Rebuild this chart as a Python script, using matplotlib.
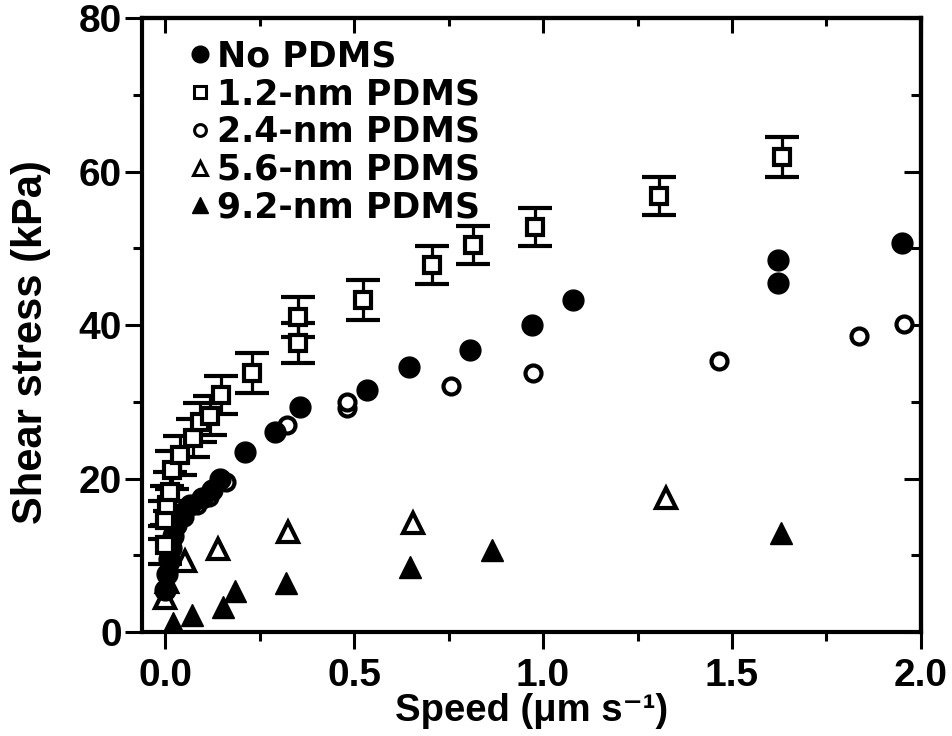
import matplotlib
matplotlib.use("Agg")
import matplotlib.pyplot as plt
from matplotlib.ticker import MultipleLocator
from matplotlib.lines import Line2D

plt.rcParams['font.family'] = ['Liberation Sans', 'DejaVu Sans']
plt.rcParams['font.weight'] = 'bold'

# ---- data ----
no_x = [0.0, 0.005, 0.01, 0.015, 0.02, 0.03, 0.045, 0.066, 0.098, 0.124, 0.145,
        0.212, 0.291, 0.357, 0.534, 0.646, 0.807, 0.971, 1.079, 1.622, 1.622, 1.95]
no_y = [5.5, 7.5, 9.5, 11.0, 12.5, 14.0, 15.5, 16.5, 17.5, 18.5, 20.0,
        23.5, 26.1, 29.3, 31.5, 34.5, 36.7, 40.0, 43.3, 48.5, 45.5, 50.7]

p12_x = [0.0, 0.0, 0.005, 0.013, 0.018, 0.04, 0.074, 0.093, 0.12, 0.148,
         0.23, 0.352, 0.352, 0.524, 0.706, 0.815, 0.979, 1.306, 1.633]
p12_y = [11.3, 14.6, 16.5, 18.3, 21.1, 23.0, 25.3, 27.3, 28.2, 30.9,
         33.7, 37.7, 41.0, 43.3, 47.8, 50.4, 52.8, 56.8, 61.9]
p12_err = [2.5, 2.5, 2.5, 2.5, 2.5, 2.5, 2.5, 2.5, 2.5, 2.5,
           2.6, 2.6, 2.6, 2.6, 2.5, 2.5, 2.5, 2.5, 2.6]

p24_x = [0.02, 0.05, 0.085, 0.115, 0.16, 0.323, 0.481, 0.481, 0.757, 0.974, 1.466, 1.836, 1.955]
p24_y = [12.5, 15.0, 16.5, 17.6, 19.5, 27.0, 29.2, 30.0, 32.0, 33.7, 35.3, 38.6, 40.1]

p56_x = [0.0, 0.005, 0.053, 0.14, 0.325, 0.656, 1.325]
p56_y = [4.4, 6.5, 9.3, 10.8, 13.0, 14.2, 17.5]

p92_x = [0.021, 0.071, 0.153, 0.185, 0.32, 0.648, 0.865, 1.63]
p92_y = [1.2, 2.2, 3.3, 5.3, 6.4, 8.5, 10.7, 12.9]

labels = ['No PDMS', '1.2-nm PDMS', '2.4-nm PDMS', '5.6-nm PDMS', '9.2-nm PDMS']
xticks = [0.0, 0.5, 1.0, 1.5, 2.0]
yticks = [0, 20, 40, 60, 80]

# ---- figure ----
fig = plt.figure(figsize=(9.53, 7.36), dpi=100)
ax = fig.add_axes([0.149, 0.1413, 0.8174, 0.8342])

ax.plot(p92_x, p92_y, linestyle='none', marker='^', ms=16, color='black', zorder=3)
ax.plot(p56_x, p56_y, linestyle='none', marker='^', ms=14, mfc='white', mec='black', mew=3, zorder=3)
ax.plot(p24_x, p24_y, linestyle='none', marker='o', ms=11.5, mfc='white', mec='black', mew=3, zorder=4)
ax.plot(no_x, no_y, linestyle='none', marker='o', ms=15, color='black', zorder=4)
ax.errorbar(p12_x, p12_y, yerr=p12_err, linestyle='none', marker='s', ms=11.5,
            mfc='white', mec='black', mew=3, ecolor='black', elinewidth=2.3,
            capsize=12, capthick=2.3, zorder=5)

ax.set_xlim(-0.061, 2.0)
ax.set_ylim(0, 80)
ax.set_xticks(xticks)
ax.set_yticks(yticks)
ax.set_xticklabels([f'{v:.1f}' for v in xticks])
ax.set_yticklabels([str(v) for v in yticks])
ax.xaxis.set_minor_locator(MultipleLocator(0.25))
ax.yaxis.set_minor_locator(MultipleLocator(10))

for s in ax.spines.values():
    s.set_linewidth(3)

ax.tick_params(axis='both', which='major', direction='out', length=12.5, width=2.2,
               labelsize=28, top=False, right=False)
ax.tick_params(axis='x', which='major', pad=6)
ax.tick_params(axis='y', which='major', pad=2)
ax.tick_params(axis='both', which='minor', direction='out', length=6.5, width=2.2,
               top=False, right=False)

secx = ax.secondary_xaxis('top')
secx.set_xticks(xticks)
secx.xaxis.set_minor_locator(MultipleLocator(0.25))
secx.tick_params(which='major', direction='in', length=11, width=2.2, labeltop=False)
secx.tick_params(which='minor', direction='in', length=6, width=2.2)
secx.spines['top'].set_linewidth(3)
secy = ax.secondary_yaxis('right')
secy.set_yticks(yticks)
secy.yaxis.set_minor_locator(MultipleLocator(10))
secy.tick_params(which='major', direction='in', length=12, width=2.2, labelright=False)
secy.tick_params(which='minor', direction='in', length=7, width=2.2)
secy.spines['right'].set_linewidth(3)

ax.set_xlabel('Speed (\u03bcm s\u207b\u00b9)', fontsize=27.5, fontweight='bold')
ax.xaxis.set_label_coords(0.5, -0.1)
ax.set_ylabel('Shear stress (kPa)', fontsize=30, fontweight='bold')
ax.yaxis.set_label_coords(-0.117, 0.472)

leg_handles = [
    Line2D([], [], linestyle='none', marker='o', ms=12, color='black'),
    Line2D([], [], linestyle='none', marker='s', ms=8, mfc='white', mec='black', mew=2.2),
    Line2D([], [], linestyle='none', marker='o', ms=8.5, mfc='white', mec='black', mew=2.2),
    Line2D([], [], linestyle='none', marker='^', ms=9.5, mfc='white', mec='black', mew=2.2),
    Line2D([], [], linestyle='none', marker='^', ms=12, color='black'),
]
ax.legend(leg_handles, labels, loc='upper left', bbox_to_anchor=(0.061, 0.9655),
          frameon=False, handlelength=0.6, handletextpad=0.18,
          labelspacing=0.11, borderpad=0, borderaxespad=0,
          prop={'family': 'DejaVu Sans', 'weight': 'bold', 'size': 25})

fig.savefig('out.png', dpi=100)
